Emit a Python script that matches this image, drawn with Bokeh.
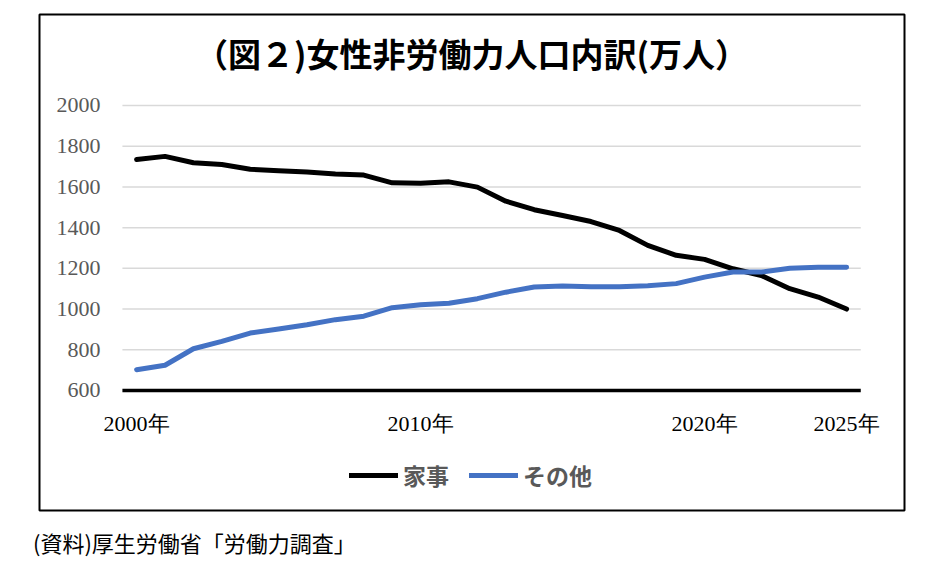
from bokeh.core.properties import value
from bokeh.embed import file_html
from bokeh.layouts import column
from bokeh.models import Div, Label, Legend, LegendItem, Range1d
from bokeh.plotting import figure
from bokeh.resources import INLINE

# Women not in the labour force, breakdown (10k persons)
years = [2000, 2001, 2002, 2003, 2004, 2005, 2006, 2007, 2008, 2009,
         2010, 2011, 2012, 2013, 2014, 2015, 2016, 2017, 2018, 2019,
         2020, 2021, 2022, 2023, 2024, 2025]
kaji = [1735, 1750, 1719, 1710, 1687, 1679, 1673, 1663, 1658, 1620,
        1618, 1625, 1599, 1530, 1488, 1460, 1430, 1386, 1313, 1264,
        1244, 1198, 1165, 1100, 1059, 1000]
sonota = [702, 724, 805, 841, 882, 902, 923, 948, 965, 1007,
          1021, 1029, 1051, 1083, 1108, 1113, 1110, 1110, 1115, 1125,
          1157, 1182, 1182, 1201, 1205, 1206]
x_ticks = [2000, 2010, 2020, 2025]
x_labels = ["2000年", "2010年", "2020年", "2025年"]
y_ticks = [600, 800, 1000, 1200, 1400, 1600, 1800, 2000]
y_labels = ["600", "800", "1000", "1200", "1400", "1600", "1800", "2000"]

title_text = "（図２)女性非労働力人口内訳(万人）"
source_text = "(資料)厚生労働省「労働力調査」"

SERIF = "Liberation Serif"
SANS = "Noto Sans CJK JP"

# the frame is the whole chart box; ranges leave room for title/legend
p = figure(width=940, height=522, output_backend="svg", toolbar_location=None,
           x_range=Range1d(1996.58, 2027.04), y_range=Range1d(10.5, 2447),
           x_axis_type=None, y_axis_type=None,
           min_border_left=39, min_border_right=36,
           min_border_top=14, min_border_bottom=12)
p.grid.visible = False
p.outline_line_color = "black"
p.outline_line_width = 2
p.border_fill_color = "white"

# category-style plot area: half a year either side of the data
x0, x1 = years[0] - 0.5, years[-1] + 0.5
p.segment(x0=[x0] * 7, x1=[x1] * 7, y0=y_ticks[1:], y1=y_ticks[1:],
          line_color="#d9d9d9", line_width=1.5)
p.segment(x0=[x0], x1=[x1], y0=[y_ticks[0]], y1=[y_ticks[0]],
          line_color="black", line_width=3.5)

p.text(x=[x0] * len(y_ticks), y=y_ticks, text=y_labels, x_offset=-22,
       text_align="right", text_baseline="middle", text_font=value(SERIF),
       text_font_size="22px", text_color="#595959")
p.text(x=x_ticks, y=[y_ticks[0]] * len(x_ticks), text=x_labels, y_offset=33,
       text_align="center", text_baseline="middle", text_font=value(SERIF),
       text_font_size="22px", text_color="black")

r1 = p.line(years, kaji, color="black", line_width=5,
            line_join="round", line_cap="round")
r2 = p.line(years, sonota, color="#4472c4", line_width=5,
            line_join="round", line_cap="round")

p.add_layout(Label(x=471, y=52, x_units="canvas", y_units="canvas",
                   text=title_text, text_align="center",
                   text_baseline="middle", text_font=SANS,
                   text_font_size="33px", text_font_style="bold",
                   text_color="black"))

legend = Legend(items=[LegendItem(label="家事", renderers=[r1]),
                       LegendItem(label="その他", renderers=[r2])],
                orientation="horizontal", location=(310, 18),
                glyph_width=49, glyph_height=22, label_standoff=5,
                spacing=20, padding=0, margin=0,
                label_text_font=SANS, label_text_font_size="23px",
                label_text_font_style="bold", label_text_color="#595959",
                background_fill_alpha=0, border_line_color=None)
p.add_layout(legend)

note = Div(text=source_text, margin=(8, 0, 0, 33),
           styles={"font-family": SANS, "font-size": "22px",
                   "line-height": "24px", "color": "black"})

open("out.html", "w").write(file_html(column(p, note), INLINE))
